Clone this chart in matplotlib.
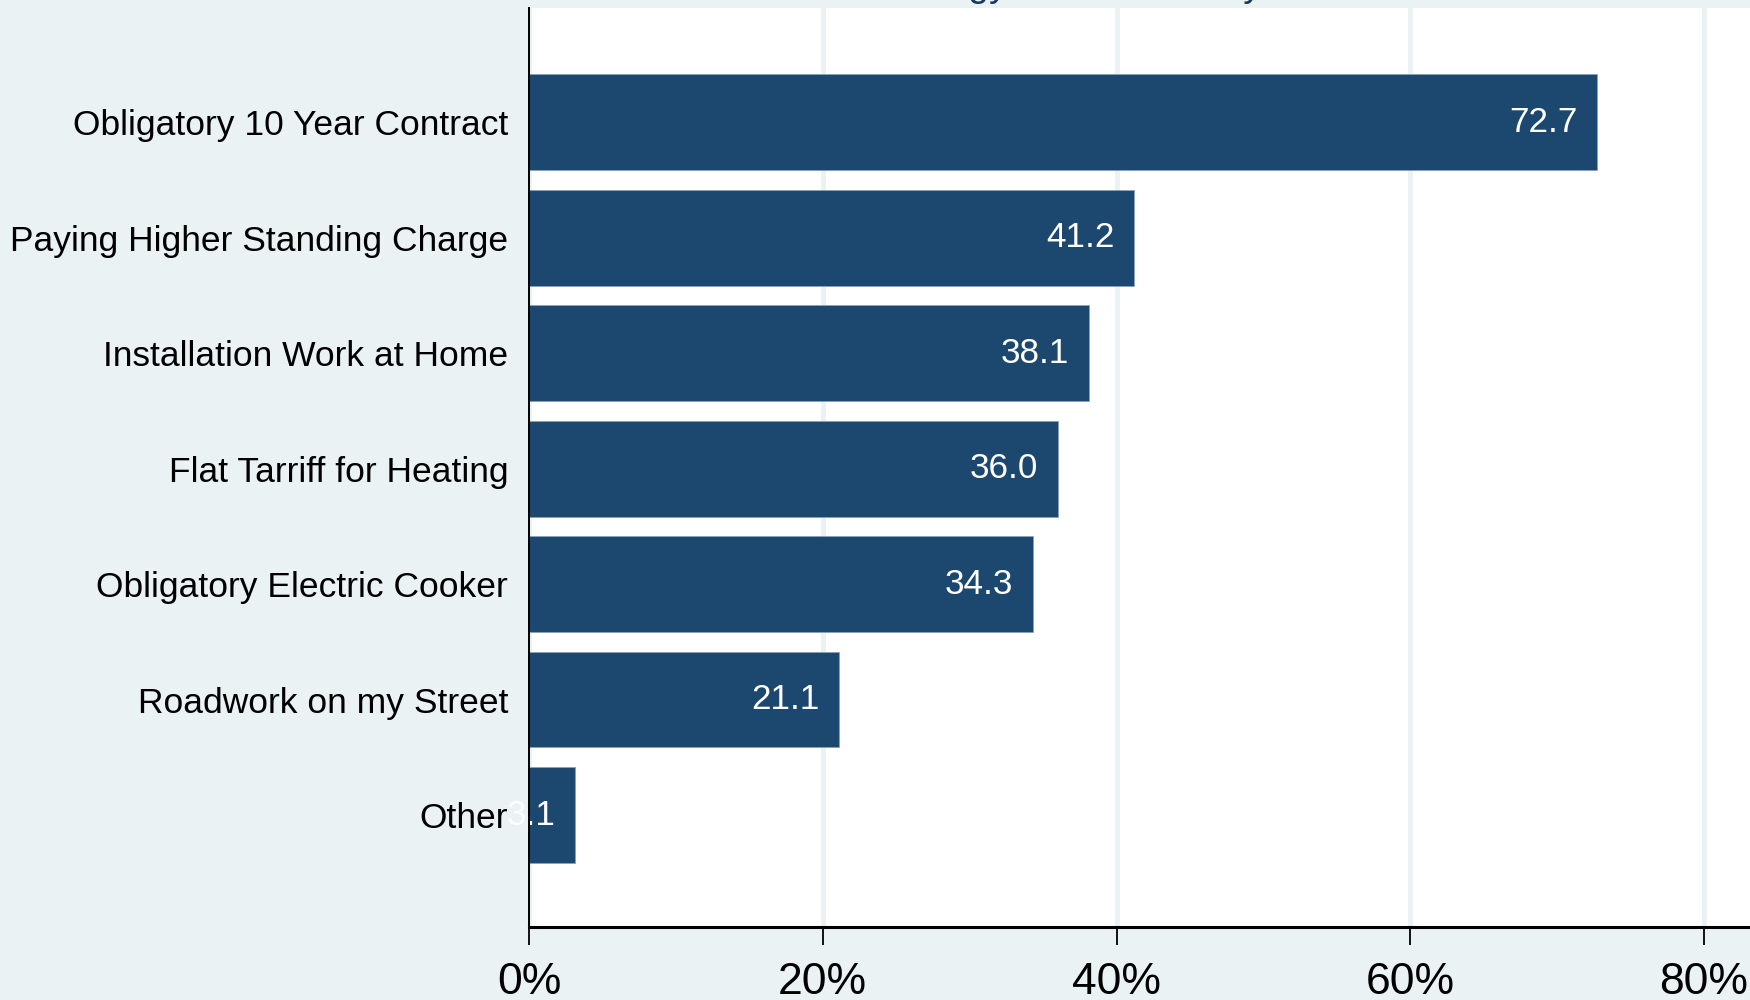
import matplotlib
matplotlib.use("Agg")
import matplotlib.pyplot as plt
from matplotlib.ticker import FuncFormatter

categories = [
    "Obligatory 10 Year Contract",
    "Paying Higher Standing Charge",
    "Installation Work at Home",
    "Flat Tarriff for Heating",
    "Obligatory Electric Cooker",
    "Roadwork on my Street",
    "Other",
]
values = [72.7, 41.2, 38.1, 36.0, 34.3, 21.1, 3.1]
xticks = [0, 20, 40, 60, 80]
title = "Deterrents to the Energy Scheme Study"

BG = "#eaf2f3"
BAR = "#1c476f"

plt.rcParams["font.family"] = ["Liberation Sans", "DejaVu Sans"]

fig = plt.figure(figsize=(17.5, 10), dpi=100, facecolor=BG)
W, H = 1750, 1000
left, right = 529 / W, 1.0
bottom, top = 1 - 927 / H, 1 - 8 / H
ax = fig.add_axes([left, bottom, right - left, top - bottom])
ax.set_facecolor("white")

pos = list(range(len(categories)))
ax.barh(pos, values, height=0.83, color=BAR, edgecolor="#8aa2b8", linewidth=0.6, zorder=3)
ax.set_xlim(0, (W - 529) / ((1704 - 529) / 80))
ax.set_ylim(6.97, -0.99)

for p, v in zip(pos, values):
    ax.annotate(f"{v:.1f}", xy=(v, p), xytext=(-14, 0), textcoords="offset points",
                ha="right", va="center", color="white", fontsize=25.3, zorder=5,
                annotation_clip=False)

ax.set_yticks(pos)
ax.set_yticklabels(categories, fontsize=25.5)
ax.tick_params(axis="y", length=0, pad=15)

ax.set_xticks(xticks)
ax.xaxis.set_major_formatter(FuncFormatter(lambda x, _: f"{x:.0f}%"))
ax.tick_params(axis="x", length=13, width=1.3, labelsize=32, pad=12, direction="out")
ax.grid(axis="x", color=BG, linewidth=3.5, zorder=0)

for s in ["top", "right"]:
    ax.spines[s].set_visible(False)
ax.spines["left"].set_linewidth(1.4)
ax.spines["bottom"].set_linewidth(2.2)
for s in ["left", "bottom"]:
    ax.spines[s].set_zorder(6)

fig.text(1262 / W, 1 + 4 / H, title, ha="right", va="baseline", fontsize=27,
         color="#1a3a5c")

fig.savefig("out.png", dpi=100, facecolor=BG)
